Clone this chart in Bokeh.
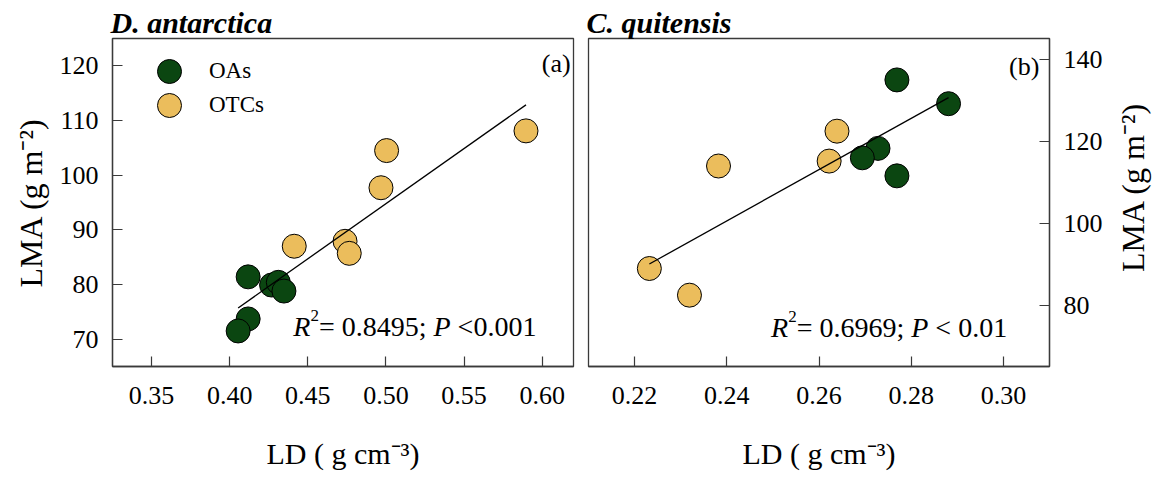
import math
import numpy as np
from bokeh.plotting import figure
from bokeh.layouts import row
from bokeh.models import (Range1d, FixedTicker, PrintfTickFormatter, Label,
                          Legend, LegendItem)
from bokeh.embed import file_html
from bokeh.resources import INLINE

# ---- data -------------------------------------------------------------
# Deschampsia antarctica: leaf density (g cm-3) vs leaf mass per area (g m-2)
da_oa_ld = [0.4118, 0.4268, 0.4311, 0.4347, 0.4118, 0.4054]
da_oa_lma = [81.4, 79.9, 80.4, 78.8, 73.7, 71.5]
da_otc_ld = [0.4413, 0.4738, 0.4765, 0.4968, 0.5004, 0.5896]
da_otc_lma = [87.0, 87.9, 85.7, 97.7, 104.5, 108.1]

# Colobanthus quitensis
cq_oa_ld = [0.2769, 0.2881, 0.2728, 0.2694, 0.2769]
cq_oa_lma = [134.9, 129.1, 118.2, 115.9, 111.5]
cq_otc_ld = [0.2639, 0.2382, 0.2622, 0.2232, 0.2319]
cq_otc_lma = [122.4, 113.9, 115.1, 88.9, 82.4]

da_xticks = [0.35, 0.40, 0.45, 0.50, 0.55, 0.60]
da_yticks = [70, 80, 90, 100, 110, 120]
cq_xticks = [0.22, 0.24, 0.26, 0.28, 0.30]
cq_yticks = [80, 100, 120, 140]

da_stats = ("0.8495", "<0.001")
cq_stats = ("0.6969", "< 0.01")

X_TITLE = "LD ( g cm\u207b\u00b3)"
Y_TITLE = "LMA (g m\u207b\u00b2)"

# ---- style --------------------------------------------------------------
FONT = "Liberation Serif"
OA_COLOR = "#0B4611"
OTC_COLOR = "#EBBD5C"
FRAME = "#3a3a3a"
MARKER = 24
HEIGHT = 477

# Times-metric advance widths (em) for the stats line
W_REG = {c: 0.5 for c in "0123456789"}
W_REG.update({".": 0.25, " ": 0.25, "=": 0.564, ";": 0.278, "<": 0.564})
W_ITA = {"R": 0.611, "P": 0.611}


def text_width(s, italic, size):
    table = W_ITA if italic else W_REG
    return sum(table.get(c, 0.5) for c in s) * size


def add_stats(p, x, y, r2, pval):
    size, sup = 28, 17
    parts = [("R", True, size, 0), ("2", False, sup, 11),
             ("= " + r2 + ";", False, size, 0), (" ", False, size, 0),
             ("P", True, size, 0), (" ", False, size, 0),
             (pval, False, size, 0)]
    off = 0.0
    for txt, ital, sz, rise in parts:
        if txt.strip():
            p.add_layout(Label(x=x, y=y, x_offset=off, y_offset=rise, text=txt,
                               text_font=FONT, text_font_size=f"{sz}px",
                               text_font_style="italic" if ital else "normal",
                               text_baseline="alphabetic", text_align="left",
                               text_color="black"))
        off += text_width(txt, ital, sz)


def fit_line(xs, ys):
    slope, icpt = np.polyfit(xs, ys, 1)
    x0, x1 = min(xs), max(xs)
    return [x0, x1], [icpt + slope * x0, icpt + slope * x1]


def make_panel(title, xr, yr, xticks, yticks, yside, width, bl, br):
    p = figure(width=width, height=HEIGHT, x_range=Range1d(*xr), y_range=Range1d(*yr),
               output_backend="svg", toolbar_location=None, tools="",
               y_axis_location=yside,
               min_border_left=bl, min_border_right=br,
               min_border_top=38, min_border_bottom=111)
    p.title.text = title
    p.title.text_font = FONT
    p.title.text_font_size = "30px"
    p.title.text_font_style = "bold italic"
    p.title.text_color = "black"
    p.title.align = "left"
    p.title.standoff = 0
    p.title.offset = -2
    p.grid.visible = False
    p.outline_line_color = FRAME
    p.outline_line_width = 1.3
    p.outline_line_alpha = 1
    p.background_fill_color = "white"
    p.border_fill_color = "white"

    p.xaxis.ticker = FixedTicker(ticks=xticks)
    p.xaxis.formatter = PrintfTickFormatter(format="%.2f")
    p.yaxis.ticker = FixedTicker(ticks=yticks)
    p.yaxis.formatter = PrintfTickFormatter(format="%d")
    for ax in (p.xaxis, p.yaxis):
        ax.axis_line_color = FRAME
        ax.axis_line_width = 1.3
        ax.major_tick_line_color = FRAME
        ax.major_tick_line_width = 1.2
        ax.major_tick_in = 10
        ax.major_tick_out = 0
        ax.minor_tick_line_color = None
        ax.major_label_text_font = FONT
        ax.major_label_text_font_size = "26px"
        ax.major_label_text_color = "black"
        ax.axis_label_text_font = FONT
        ax.axis_label_text_font_style = "normal"
        ax.axis_label_text_color = "black"
    p.xaxis.major_label_standoff = 20
    p.yaxis.major_label_standoff = 14
    p.xaxis.axis_label = X_TITLE
    p.xaxis.axis_label_text_font_size = "30px"
    p.xaxis.axis_label_standoff = 30
    return p


def draw_points(p, oa_x, oa_y, otc_x, otc_y):
    r_oa = p.scatter(oa_x, oa_y, size=MARKER, fill_color=OA_COLOR,
                     line_color="black", line_width=1)
    r_otc = p.scatter(otc_x, otc_y, size=MARKER, fill_color=OTC_COLOR,
                      line_color="black", line_width=1)
    fx, fy = fit_line(oa_x + otc_x, oa_y + otc_y)
    p.line(fx, fy, line_color="black", line_width=1.3)
    return r_oa, r_otc


def legend_entry(label, renderer, bottom):
    # one entry per legend box so the keys sit close together at full size
    return Legend(items=[LegendItem(label=label, renderers=[renderer])],
                  location=(27, bottom), glyph_width=60, glyph_height=60,
                  padding=0, margin=0, label_standoff=10,
                  label_text_font=FONT, label_text_font_size="23px",
                  label_text_color="black", background_fill_alpha=0,
                  border_line_alpha=0)


# ---- panel (a): D. antarctica -------------------------------------------
da_xr, da_yr = (0.325, 0.62), (65, 125)
pa = make_panel("D. antarctica", da_xr, da_yr, da_xticks, da_yticks,
                "left", 580, 112, 7)
pa.yaxis.axis_label = Y_TITLE
pa.yaxis.axis_label_text_font_size = "32px"
pa.yaxis.axis_label_standoff = 8
ra_oa, ra_otc = draw_points(pa, da_oa_ld, da_oa_lma, da_otc_ld, da_otc_lma)
add_stats(pa, 0.4407, 72.4, *da_stats)
pa.add_layout(Label(x=0.6182, y=120.4, text="(a)", text_font=FONT,
                    text_font_size="26px", text_align="right",
                    text_baseline="alphabetic", text_color="black"))
pa.add_layout(legend_entry("OAs", ra_oa, 265))
pa.add_layout(legend_entry("OTCs", ra_otc, 231))

# ---- panel (b): C. quitensis --------------------------------------------
cq_xr, cq_yr = (0.21, 0.31), (65, 145)
pb = make_panel("C. quitensis", cq_xr, cq_yr, cq_xticks, cq_yticks,
                "right", 528, 8, 59)
draw_points(pb, cq_oa_ld, cq_oa_lma, cq_otc_ld, cq_otc_lma)
add_stats(pb, 0.2496, 74.6, *cq_stats)
pb.add_layout(Label(x=0.3078, y=138.1, text="(b)", text_font=FONT,
                    text_font_size="26px", text_align="right",
                    text_baseline="alphabetic", text_color="black"))

# ---- right-hand axis title strip (reads bottom to top like the left one) --
strip_w = 60
pc = figure(width=strip_w, height=HEIGHT, x_range=Range1d(0, strip_w),
            y_range=Range1d(0, HEIGHT), x_axis_type=None, y_axis_type=None,
            output_backend="svg", toolbar_location=None, tools="",
            min_border=0, outline_line_color=None)
pc.grid.visible = False
pc.add_layout(Label(x=24, y=HEIGHT - 216, text=Y_TITLE, angle=math.pi / 2,
                    text_font=FONT, text_font_size="32px", text_align="center",
                    text_baseline="middle", text_color="black"))

layout = row(pa, pb, pc)
open("out.html", "w").write(file_html(layout, INLINE))
